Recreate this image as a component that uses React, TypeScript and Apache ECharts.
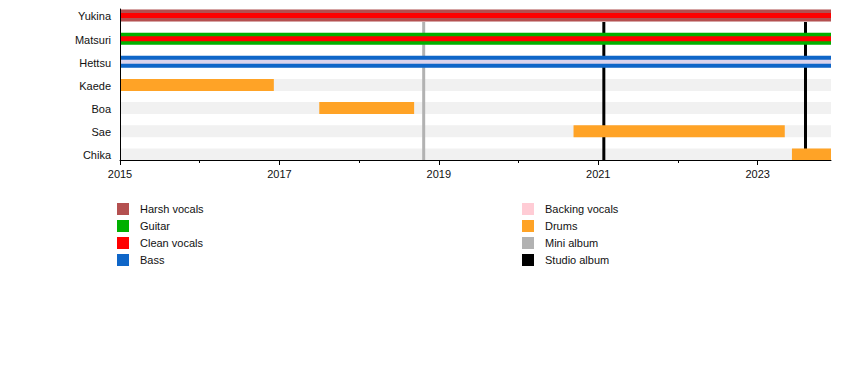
import React, { useEffect, useRef } from "react";
import * as echarts from "echarts";

const START = 2015;
const END = 2023.92;

const members = ["Yukina", "Matsuri", "Hettsu", "Kaede", "Boa", "Sae", "Chika"];

// [row, start, end]
const harshVocals = [[0, 2015, END]];
const guitar = [[1, 2015, END]];
const cleanVocals = [[0, 2015, END], [1, 2015, END]];
const bass = [[2, 2015, END]];
const backingVocals = [[2, 2015, END]];
const drums = [
  [3, 2015, 2016.93],
  [4, 2017.5, 2018.69],
  [5, 2020.69, 2023.34],
  [6, 2023.43, END],
];
const miniAlbums = [2018.81];
const studioAlbums = [2021.07, 2023.6];

const majorTicks = [2015, 2017, 2019, 2021, 2023];
const minorTicks = [2016, 2018, 2020, 2022];

const FONT = "'Liberation Sans', Arial, sans-serif";

function barRenderer(height: number, fill: string) {
  return (params: any, api: any) => {
    const row = api.value(0);
    const p0 = api.coord([api.value(1), row]);
    const p1 = api.coord([api.value(2), row]);
    return {
      type: "rect",
      shape: { x: p0[0], y: p0[1] - height / 2, width: p1[0] - p0[0], height },
      style: { fill },
    };
  };
}

function lineRenderer(color: string) {
  return (params: any, api: any) => {
    const x = api.value(0);
    const top = api.coord([x, 0.28]);
    const bot = api.coord([x, 6.24]);
    return {
      type: "rect",
      shape: { x: top[0] - 1.5, y: top[1], width: 3, height: bot[1] - top[1] },
      style: { fill: color },
    };
  };
}

export default function App() {
  const ref = useRef<HTMLDivElement>(null);
  useEffect(() => {
    if (!ref.current) return;
    const chart = echarts.init(ref.current, undefined, { renderer: "svg" });
    const colors = {
      harsh: "#B45050",
      guitar: "#00B000",
      clean: "#FF0000",
      bass: "#0F66C8",
      backing: "#FFCCD5",
      backingInner: "#DCD4EC",
      drums: "#FFA326",
      mini: "#B2B2B2",
      studio: "#000000",
    };
    const legendText = { fontSize: 11, color: "#111", fontFamily: FONT, padding: [0, 0, 0, 6] };
    chart.setOption({
      animation: false,
      grid: { left: 120, right: 19, top: 9, height: 151 },
      xAxis: [
        {
          type: "value",
          min: START,
          max: END,
          position: "bottom",
          z: 10,
          axisLine: { show: true, onZero: false, lineStyle: { color: "#000", width: 1 } },
          axisTick: { show: true, length: 5, customValues: majorTicks, lineStyle: { color: "#000" } },
          axisLabel: {
            show: true,
            customValues: majorTicks,
            margin: 8,
            fontSize: 11,
            color: "#111",
            fontFamily: FONT,
            formatter: (v: number) => String(v),
          },
          splitLine: { show: false },
        },
        {
          type: "value",
          min: START,
          max: END,
          position: "bottom",
          z: 10,
          axisLine: { show: false, onZero: false },
          axisTick: { show: true, length: 3, customValues: minorTicks, lineStyle: { color: "#000" } },
          axisLabel: { show: false },
          splitLine: { show: false },
        },
      ],
      yAxis: {
        type: "value",
        inverse: true,
        min: -0.28,
        max: 6.24,
        z: 10,
        axisLine: { show: true, onZero: false, lineStyle: { color: "#000", width: 1 } },
        axisTick: { show: false },
        axisLabel: { show: false },
        splitLine: { show: false },
      },
      legend: [
        {
          orient: "vertical",
          left: 112,
          top: 198,
          itemWidth: 12,
          itemHeight: 12,
          itemGap: 5,
          icon: "rect",
          textStyle: legendText,
          selectedMode: false,
          data: ["Harsh vocals", "Guitar", "Clean vocals", "Bass"],
        },
        {
          orient: "vertical",
          left: 517,
          top: 198,
          itemWidth: 12,
          itemHeight: 12,
          itemGap: 5,
          icon: "rect",
          textStyle: legendText,
          selectedMode: false,
          data: ["Backing vocals", "Drums", "Mini album", "Studio album"],
        },
      ],
      series: [
        {
          name: "bands",
          type: "custom",
          z: 1,
          data: members.map((_, i) => [i, START, END]),
          renderItem: barRenderer(12, "#F1F1F1"),
        },
        {
          name: "labels",
          type: "custom",
          z: 1,
          data: members.map((m, i) => [i, m]),
          renderItem: (params: any, api: any) => {
            const p = api.coord([START, api.value(0)]);
            return {
              type: "text",
              x: p[0] - 9,
              y: p[1] + 1,
              style: {
                text: members[params.dataIndex],
                textAlign: "right",
                textVerticalAlign: "middle",
                fontSize: 11,
                fill: "#111",
                fontFamily: FONT,
              },
            };
          },
        },
        {
          name: "Mini album",
          type: "custom",
          z: 2,
          itemStyle: { color: colors.mini },
          data: miniAlbums.map((v) => [v]),
          renderItem: lineRenderer(colors.mini),
        },
        {
          name: "Studio album",
          type: "custom",
          z: 2,
          itemStyle: { color: colors.studio },
          data: studioAlbums.map((v) => [v]),
          renderItem: lineRenderer(colors.studio),
        },
        {
          name: "Harsh vocals",
          type: "custom",
          z: 3,
          itemStyle: { color: colors.harsh },
          data: harshVocals,
          renderItem: barRenderer(12, colors.harsh),
        },
        {
          name: "Guitar",
          type: "custom",
          z: 3,
          itemStyle: { color: colors.guitar },
          data: guitar,
          renderItem: barRenderer(12, colors.guitar),
        },
        {
          name: "Bass",
          type: "custom",
          z: 3,
          itemStyle: { color: colors.bass },
          data: bass,
          renderItem: barRenderer(12, colors.bass),
        },
        {
          name: "Drums",
          type: "custom",
          z: 3,
          itemStyle: { color: colors.drums },
          data: drums,
          renderItem: barRenderer(12, colors.drums),
        },
        {
          name: "Clean vocals",
          type: "custom",
          z: 4,
          itemStyle: { color: colors.clean },
          data: cleanVocals,
          renderItem: barRenderer(5, colors.clean),
        },
        {
          name: "Backing vocals",
          type: "custom",
          z: 4,
          itemStyle: { color: colors.backing },
          data: backingVocals,
          renderItem: barRenderer(4, colors.backingInner),
        },
      ],
    });
    return () => chart.dispose();
  }, []);
  return (
    <div
      ref={ref}
      style={{ position: "absolute", left: 0, top: 0, width: 850, height: 370 }}
    />
  );
}
